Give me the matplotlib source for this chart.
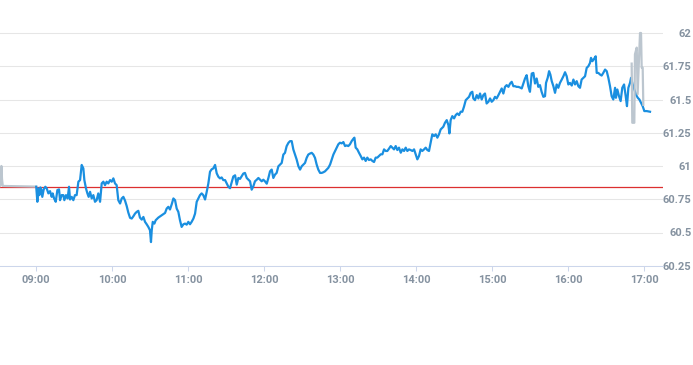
import matplotlib
matplotlib.use("Agg")
import matplotlib.pyplot as plt

# ---- data (minutes after 09:00, price) ----
blue_t = [0, 0.9, 1.7, 2.5, 3.3, 4.0, 4.8, 5.9, 7.2, 8.3, 9.6, 10.9, 12.2, 13.0, 14.1, 15.4, 16.7, 18.0,
          18.8, 20.1, 21.4, 22.2, 23.5, 24.8, 25.9, 26.7, 28.0, 29.3, 30.6, 31.9, 33.3, 34.6, 35.9, 37.2,
          38.0, 39.3, 40.4, 41.4, 42.5, 43.8, 45.1, 46.4, 47.7, 49.0, 50.4, 51.7, 53.0, 54.3, 55.6, 56.9,
          58.3, 59.6, 60.9, 62.2, 63.5, 64.8, 66.2, 67.5, 68.8, 70.1, 71.4, 72.7, 74.1, 75.4, 76.7, 78.0,
          79.3, 80.6, 81.9, 83.3, 84.6, 85.9, 87.2, 88.5, 89.8, 90.6, 91.2, 92.0, 93.3, 94.3, 96.4, 99.1,
          101.7, 103.0, 104.3, 105.6, 107.0, 108.3, 109.6, 110.9, 112.2, 113.5, 114.8, 116.2, 117.5, 118.8,
          120.1, 121.4, 122.7, 124.1, 125.4, 126.7, 128.0, 129.3, 130.6, 131.9, 133.3, 134.6, 135.9, 137.2,
          138.5, 139.8, 141.2, 142.5, 143.8, 145.1, 146.4, 147.7, 149.1, 150.4, 151.7, 153.0, 154.3, 155.6,
          157.0, 158.3, 159.6, 160.9, 162.2, 163.5, 164.8, 166.2, 167.5, 168.8, 170.1, 171.4, 172.7, 174.1,
          175.4, 176.7, 178.0, 179.3, 180.6, 182.0, 183.3, 184.6, 185.9, 187.2, 188.5, 189.8, 191.2, 192.5,
          193.8, 195.1, 196.4, 197.7, 199.1, 200.4, 201.7, 203.0, 204.3, 205.6, 207.0, 208.3, 209.6, 210.9,
          212.2, 213.5, 214.8, 216.2, 217.5, 218.8, 220.1, 221.4, 222.7, 224.1, 225.4, 226.7, 228.0, 229.3,
          230.6, 232.0, 233.3, 234.6, 235.9, 237.2, 238.5, 239.8, 241.2, 242.5, 243.8, 245.1, 246.4, 247.7,
          249.1, 250.4, 251.2, 252.2, 253.5, 254.8, 256.2, 257.5, 258.8, 260.1, 261.4, 262.7, 264.1, 265.4,
          266.7, 268.0, 269.3, 270.6, 272.0, 273.3, 274.6, 275.9, 277.2, 278.5, 279.9, 281.2, 282.5, 283.8,
          285.1, 286.4, 287.8, 289.1, 290.4, 291.7, 293.0, 294.3, 295.6, 297.0, 298.3, 299.6, 300.9, 302.2,
          303.5, 304.8, 306.2, 307.5, 308.8, 310.1, 311.4, 312.7, 314.1, 315.4, 316.7, 318.0, 319.3, 321.4,
          322.7, 324.1, 325.4, 326.2, 327.2, 328.5, 329.9, 331.2, 332.5, 333.8, 335.1, 336.4, 337.7, 339.1,
          340.4, 341.7, 343.0, 344.3, 345.1, 346.4, 347.8, 349.1, 350.4, 351.7, 353.0, 354.3, 355.6, 357.0,
          358.3, 359.6, 360.9, 362.2, 363.5, 364.9, 366.2, 367.5, 368.8, 370.1, 371.4, 372.8, 374.1, 375.4,
          376.7, 378.0, 379.3, 380.6, 382.0, 383.3, 384.6, 385.9, 387.2, 388.5, 389.8, 391.2, 392.5, 393.8,
          395.1, 396.4, 397.7, 399.0, 400.4, 401.7, 402.5, 403.8, 404.9, 405.9, 407.0, 408.3, 409.6, 410.9,
          412.2, 413.5, 414.9, 416.2, 417.5, 418.8, 420.1, 421.4, 422.8, 424.1, 425.4, 426.7, 428.0, 429.3,
          430.6, 432.0, 433.3, 434.6, 435.9, 437.2, 438.0, 439.1, 440.4, 441.7, 442.5, 443.8, 445.1, 446.4,
          447.7, 449.1, 450.4, 451.7, 453.0, 454.3, 455.6, 457.0, 457.7, 458.8, 460.1, 461.4, 462.7, 464.1,
          465.4, 466.4, 467.5, 468.8, 469.6, 470.9, 472.2, 473.5, 474.9, 476.2, 477.5, 478.8, 480.1, 482.0,
          484.6]
blue_v = [60.844, 60.731, 60.831, 60.781, 60.839, 60.824, 60.768, 60.824, 60.844, 60.831, 60.794, 60.811,
          60.768, 60.794, 60.756, 60.731, 60.819, 60.824, 60.743, 60.781, 60.781, 60.743, 60.781, 60.756,
          60.844, 60.748, 60.768, 60.743, 60.781, 60.781, 60.882, 60.894, 61.008, 60.982, 60.894, 60.831,
          60.794, 60.768, 60.806, 60.756, 60.781, 60.731, 60.743, 60.794, 60.731, 60.869, 60.882, 60.856,
          60.882, 60.869, 60.894, 60.882, 60.907, 60.869, 60.856, 60.743, 60.718, 60.756, 60.768, 60.740,
          60.700, 60.650, 60.610, 60.605, 60.622, 60.642, 60.655, 60.663, 60.612, 60.597, 60.617, 60.580,
          60.562, 60.542, 60.517, 60.428, 60.517, 60.580, 60.567, 60.592, 60.612, 60.630, 60.647, 60.680,
          60.693, 60.673, 60.713, 60.756, 60.743, 60.680, 60.655, 60.592, 60.542, 60.562, 60.567, 60.559,
          60.580, 60.562, 60.580, 60.605, 60.642, 60.731, 60.756, 60.781, 60.794, 60.781, 60.748, 60.806,
          60.869, 60.957, 60.975, 60.982, 61.008, 60.945, 60.919, 60.907, 60.914, 60.894, 60.894, 60.869,
          60.844, 60.833, 60.877, 60.921, 60.930, 60.860, 60.910, 60.903, 60.923, 60.943, 60.948, 60.910,
          60.897, 60.885, 60.822, 60.847, 60.885, 60.897, 60.910, 60.897, 60.885, 60.897, 60.885, 60.867,
          60.910, 60.960, 60.973, 60.910, 60.935, 60.948, 60.998, 61.011, 61.023, 61.086, 61.099, 61.149,
          61.174, 61.187, 61.187, 61.124, 61.086, 61.049, 60.998, 60.973, 60.998, 61.011, 61.023, 61.061,
          61.086, 61.094, 61.099, 61.086, 61.061, 61.011, 60.973, 60.948, 60.948, 60.953, 60.960, 60.973,
          60.986, 61.011, 61.049, 61.086, 61.112, 61.137, 61.163, 61.175, 61.170, 61.180, 61.150, 61.155,
          61.150, 61.163, 61.188, 61.205, 61.213, 61.138, 61.125, 61.100, 61.075, 61.050, 61.063, 61.038,
          61.063, 61.045, 61.050, 61.038, 61.030, 61.063, 61.063, 61.075, 61.088, 61.088, 61.125, 61.113,
          61.113, 61.130, 61.150, 61.138, 61.125, 61.150, 61.120, 61.138, 61.100, 61.125, 61.113, 61.138,
          61.113, 61.125, 61.120, 61.113, 61.125, 61.088, 61.050, 61.075, 61.125, 61.113, 61.125, 61.138,
          61.120, 61.113, 61.175, 61.238, 61.225, 61.238, 61.213, 61.238, 61.275, 61.295, 61.325, 61.345,
          61.308, 61.245, 61.345, 61.375, 61.358, 61.383, 61.395, 61.383, 61.408, 61.408, 61.445, 61.495,
          61.508, 61.520, 61.550, 61.558, 61.508, 61.495, 61.533, 61.508, 61.545, 61.500, 61.533, 61.545,
          61.470, 61.483, 61.508, 61.483, 61.495, 61.520, 61.508, 61.533, 61.558, 61.583, 61.545, 61.595,
          61.608, 61.595, 61.620, 61.633, 61.600, 61.600, 61.595, 61.595, 61.590, 61.583, 61.620, 61.658,
          61.683, 61.600, 61.558, 61.695, 61.700, 61.620, 61.658, 61.595, 61.608, 61.558, 61.520, 61.525,
          61.625, 61.663, 61.713, 61.688, 61.638, 61.600, 61.550, 61.613, 61.588, 61.625, 61.650, 61.675,
          61.705, 61.675, 61.613, 61.625, 61.605, 61.650, 61.613, 61.638, 61.600, 61.588, 61.650, 61.663,
          61.675, 61.738, 61.750, 61.775, 61.813, 61.788, 61.805, 61.825, 61.700, 61.700, 61.688, 61.680,
          61.700, 61.725, 61.713, 61.663, 61.600, 61.525, 61.500, 61.588, 61.513, 61.575, 61.525, 61.488,
          61.588, 61.613, 61.525, 61.450, 61.588, 61.625, 61.663, 61.613, 61.575, 61.538, 61.513, 61.500,
          61.475, 61.450, 61.413, 61.413, 61.408]

pre_t = [-28.6, -28.0, -27.5, -27.0, -26.4, 0]
pre_v = [60.850, 60.860, 61.000, 60.900, 60.850, 60.845]

post_t = [470.1, 470.6, 472.2, 472.7, 474.1, 474.8, 476.7, 477.5, 478.0, 478.8, 479.3]
post_v = [61.77, 61.325, 61.325, 61.84, 61.89, 61.54, 62.0, 62.0, 61.74, 61.74, 61.46]

prev_close = 60.842

x_ticks = [0, 60, 120, 180, 240, 300, 360, 420, 480]
x_labels = ["09:00", "10:00", "11:00", "12:00", "13:00", "14:00", "15:00", "16:00", "17:00"]
y_ticks = [60.25, 60.5, 60.75, 61.0, 61.25, 61.5, 61.75, 62.0]
y_labels = ["60.25", "60.5", "60.75", "61", "61.25", "61.5", "61.75", "62"]

# ---- figure ----
W, H = 693, 365
fig = plt.figure(figsize=(W / 100, H / 100), dpi=100)
ax_right_px = 663
ax = fig.add_axes([0, (H - 265.75) / H, ax_right_px / W, (265.75 - 19.7) / H])

ax.set_xlim(-28.6, (ax_right_px - 36.2) * 60 / 76.0)
ax.set_ylim(60.25, 62.1)

label_color = "#8592a0"
font = dict(family="Roboto", size=8, weight="bold", color=label_color)

ax.axhline(prev_close, color="#dc2f2f", lw=0.9, zorder=2)
ax.plot(pre_t, pre_v, color="#bcc6cf", lw=1.6, zorder=3, solid_joinstyle="round")
ax.plot(blue_t, blue_v, color="#1a8fe0", lw=1.6, zorder=4, solid_joinstyle="round")
ax.plot(post_t, post_v, color="#bcc6cf", lw=1.6, zorder=5, solid_joinstyle="round", clip_on=False)

ax.set_yticks(y_ticks)
ax.set_yticklabels(y_labels, fontdict=font)
ax.yaxis.tick_right()
ax.tick_params(axis="y", length=0, pad=20.6)
for lab in ax.get_yticklabels():
    lab.set_horizontalalignment("right")

ax.set_xticks(x_ticks)
ax.set_xticklabels(x_labels, fontdict=font)
ax.tick_params(axis="x", length=3.6, width=0.75, color="#ccd6eb", pad=3)

ax.grid(axis="y", color="#e6e6e6", lw=0.75)
ax.set_axisbelow(True)
for s in ["top", "left", "right"]:
    ax.spines[s].set_visible(False)
ax.spines["bottom"].set_color("#ccd6eb")
ax.spines["bottom"].set_linewidth(0.75)
ax.patch.set_alpha(0)

fig.savefig("out.png", dpi=100)
